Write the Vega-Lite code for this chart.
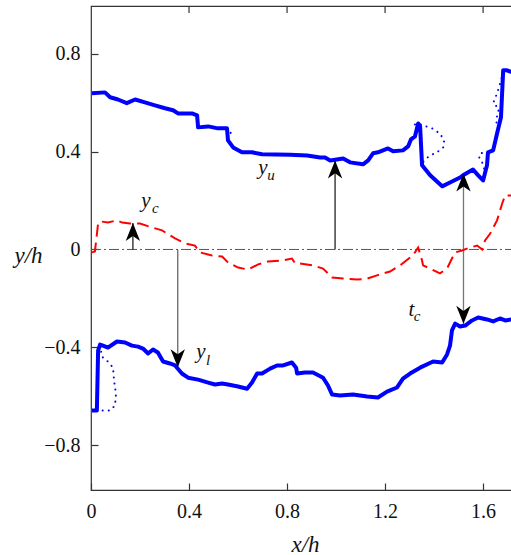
{
  "$schema": "https://vega.github.io/schema/vega-lite/v6.json",
  "width": 421,
  "height": 484,
  "autosize": "none",
  "padding": {"left": 91, "top": 6, "right": 0, "bottom": 65},
  "background": "white",
  "config": {
    "view": {"stroke": "#333", "strokeWidth": 1.2},
    "style": {"guide-label": {"font": "Liberation Serif", "fontSize": 20, "fill": "#111"}},
    "axis": {"domain": false, "tickColor": "#333", "tickWidth": 1.2, "tickSize": -7, "labelPadding": 18, "grid": false}
  },
  "datasets": {
    "zero": [{"x": 0, "x2": 1.718, "y": 0}],
    "topticks": [{"x":0.4,"y":0.995,"y2":0.966},{"x":0.8,"y":0.995,"y2":0.966},{"x":1.2,"y":0.995,"y2":0.966},{"x":1.6,"y":0.995,"y2":0.966}],
    "upper": [
      {"x":0.004,"y":0.638},{"x":0.057,"y":0.642},{"x":0.078,"y":0.622},{"x":0.110,"y":0.613},{"x":0.146,"y":0.598},
      {"x":0.180,"y":0.613},{"x":0.220,"y":0.601},{"x":0.261,"y":0.589},{"x":0.302,"y":0.577},{"x":0.335,"y":0.569},
      {"x":0.355,"y":0.556},{"x":0.412,"y":0.556},{"x":0.433,"y":0.548},{"x":0.437,"y":0.499},{"x":0.478,"y":0.503},
      {"x":0.518,"y":0.495},{"x":0.555,"y":0.495},{"x":0.559,"y":0.446},{"x":0.580,"y":0.417},{"x":0.616,"y":0.397},
      {"x":0.657,"y":0.397},{"x":0.698,"y":0.389},{"x":0.812,"y":0.387},{"x":0.882,"y":0.384},{"x":0.935,"y":0.376},
      {"x":0.955,"y":0.376},{"x":0.976,"y":0.364},{"x":1.029,"y":0.372},{"x":1.057,"y":0.356},{"x":1.110,"y":0.348},
      {"x":1.131,"y":0.364},{"x":1.151,"y":0.393},{"x":1.171,"y":0.397},{"x":1.212,"y":0.413},{"x":1.233,"y":0.401},
      {"x":1.273,"y":0.405},{"x":1.294,"y":0.421},{"x":1.306,"y":0.450},{"x":1.322,"y":0.462},{"x":1.335,"y":0.515},
      {"x":1.343,"y":0.503},{"x":1.351,"y":0.344},{"x":1.384,"y":0.303},{"x":1.433,"y":0.258},{"x":1.465,"y":0.274},
      {"x":1.506,"y":0.294},{"x":1.518,"y":0.303},{"x":1.559,"y":0.327},{"x":1.580,"y":0.303},{"x":1.600,"y":0.282},
      {"x":1.616,"y":0.344},{"x":1.620,"y":0.397},{"x":1.641,"y":0.405},{"x":1.657,"y":0.474},{"x":1.673,"y":0.540},
      {"x":1.682,"y":0.732},{"x":1.698,"y":0.732},{"x":1.718,"y":0.724}
    ],
    "lower": [
      {"x":0.004,"y":-0.658},{"x":0.024,"y":-0.658},{"x":0.029,"y":-0.413},{"x":0.037,"y":-0.389},{"x":0.049,"y":-0.393},
      {"x":0.069,"y":-0.401},{"x":0.106,"y":-0.376},{"x":0.139,"y":-0.380},{"x":0.167,"y":-0.393},{"x":0.192,"y":-0.397},
      {"x":0.212,"y":-0.405},{"x":0.233,"y":-0.425},{"x":0.253,"y":-0.409},{"x":0.273,"y":-0.421},{"x":0.294,"y":-0.458},
      {"x":0.322,"y":-0.466},{"x":0.343,"y":-0.474},{"x":0.371,"y":-0.507},{"x":0.396,"y":-0.524},{"x":0.437,"y":-0.532},
      {"x":0.478,"y":-0.544},{"x":0.506,"y":-0.552},{"x":0.535,"y":-0.548},{"x":0.559,"y":-0.552},{"x":0.600,"y":-0.560},
      {"x":0.637,"y":-0.569},{"x":0.657,"y":-0.544},{"x":0.678,"y":-0.507},{"x":0.698,"y":-0.507},{"x":0.731,"y":-0.487},
      {"x":0.759,"y":-0.474},{"x":0.784,"y":-0.474},{"x":0.820,"y":-0.462},{"x":0.837,"y":-0.483},{"x":0.841,"y":-0.507},
      {"x":0.873,"y":-0.503},{"x":0.906,"y":-0.503},{"x":0.947,"y":-0.524},{"x":0.967,"y":-0.556},{"x":0.984,"y":-0.593},
      {"x":1.016,"y":-0.597},{"x":1.069,"y":-0.593},{"x":1.127,"y":-0.601},{"x":1.171,"y":-0.605},{"x":1.208,"y":-0.581},
      {"x":1.249,"y":-0.564},{"x":1.273,"y":-0.528},{"x":1.302,"y":-0.507},{"x":1.343,"y":-0.483},{"x":1.396,"y":-0.458},
      {"x":1.433,"y":-0.462},{"x":1.453,"y":-0.429},{"x":1.465,"y":-0.393},{"x":1.473,"y":-0.331},{"x":1.486,"y":-0.303},
      {"x":1.506,"y":-0.315},{"x":1.527,"y":-0.311},{"x":1.555,"y":-0.290},{"x":1.580,"y":-0.278},{"x":1.616,"y":-0.286},
      {"x":1.641,"y":-0.294},{"x":1.669,"y":-0.282},{"x":1.690,"y":-0.290},{"x":1.718,"y":-0.286}
    ],
    "center": [
      {"x":0.004,"y":-0.012},{"x":0.016,"y":-0.008},{"x":0.029,"y":0.106},{"x":0.037,"y":0.115},{"x":0.069,"y":0.110},
      {"x":0.106,"y":0.119},{"x":0.127,"y":0.110},{"x":0.159,"y":0.106},{"x":0.200,"y":0.106},{"x":0.249,"y":0.090},
      {"x":0.290,"y":0.078},{"x":0.343,"y":0.045},{"x":0.384,"y":0.025},{"x":0.424,"y":0.016},{"x":0.445,"y":-0.012},
      {"x":0.494,"y":-0.025},{"x":0.535,"y":-0.029},{"x":0.559,"y":-0.053},{"x":0.600,"y":-0.074},{"x":0.641,"y":-0.082},
      {"x":0.682,"y":-0.061},{"x":0.722,"y":-0.049},{"x":0.780,"y":-0.045},{"x":0.820,"y":-0.037},{"x":0.833,"y":-0.057},
      {"x":0.853,"y":-0.057},{"x":0.906,"y":-0.065},{"x":0.947,"y":-0.078},{"x":0.984,"y":-0.115},{"x":1.029,"y":-0.119},
      {"x":1.086,"y":-0.123},{"x":1.127,"y":-0.119},{"x":1.167,"y":-0.106},{"x":1.220,"y":-0.090},{"x":1.261,"y":-0.065},
      {"x":1.302,"y":-0.033},{"x":1.322,"y":-0.012},{"x":1.335,"y":0.008},{"x":1.351,"y":-0.045},{"x":1.355,"y":-0.065},
      {"x":1.384,"y":-0.078},{"x":1.424,"y":-0.098},{"x":1.453,"y":-0.078},{"x":1.473,"y":-0.037},{"x":1.486,"y":-0.012},
      {"x":1.514,"y":-0.004},{"x":1.547,"y":0.008},{"x":1.576,"y":0.016},{"x":1.596,"y":0.000},{"x":1.608,"y":0.037},
      {"x":1.629,"y":0.065},{"x":1.657,"y":0.119},{"x":1.678,"y":0.188},{"x":1.690,"y":0.221},{"x":1.718,"y":0.221}
    ],
    "loops": [
      {"seg":"a","i":0,"x":0.037,"y":-0.393},{"seg":"a","i":1,"x":0.045,"y":-0.438},{"seg":"a","i":2,"x":0.069,"y":-0.458},
      {"seg":"a","i":3,"x":0.090,"y":-0.483},{"seg":"a","i":4,"x":0.094,"y":-0.536},{"seg":"a","i":5,"x":0.102,"y":-0.589},
      {"seg":"a","i":6,"x":0.098,"y":-0.638},{"seg":"a","i":7,"x":0.078,"y":-0.658},{"seg":"a","i":8,"x":0.049,"y":-0.658},
      {"seg":"a","i":9,"x":0.024,"y":-0.658},
      {"seg":"b","i":0,"x":0.555,"y":0.495},{"seg":"b","i":1,"x":0.567,"y":0.487},{"seg":"b","i":2,"x":0.571,"y":0.474},
      {"seg":"c","i":0,"x":1.322,"y":0.511},{"seg":"c","i":1,"x":1.335,"y":0.515},{"seg":"c","i":2,"x":1.355,"y":0.507},
      {"seg":"c","i":3,"x":1.392,"y":0.495},{"seg":"c","i":4,"x":1.424,"y":0.474},{"seg":"c","i":5,"x":1.441,"y":0.446},
      {"seg":"c","i":6,"x":1.437,"y":0.417},{"seg":"c","i":7,"x":1.412,"y":0.397},{"seg":"c","i":8,"x":1.384,"y":0.384},
      {"seg":"c","i":9,"x":1.363,"y":0.368},{"seg":"c","i":10,"x":1.351,"y":0.352},
      {"seg":"d","i":0,"x":1.620,"y":0.397},{"seg":"d","i":1,"x":1.588,"y":0.393},{"seg":"d","i":2,"x":1.584,"y":0.372},
      {"seg":"d","i":3,"x":1.596,"y":0.356},{"seg":"d","i":4,"x":1.604,"y":0.331},
      {"seg":"e","i":0,"x":1.682,"y":0.724},{"seg":"e","i":1,"x":1.665,"y":0.663},{"seg":"e","i":2,"x":1.657,"y":0.638},
      {"seg":"e","i":3,"x":1.641,"y":0.597},{"seg":"e","i":4,"x":1.665,"y":0.577},{"seg":"e","i":5,"x":1.653,"y":0.528},
      {"seg":"e","i":6,"x":1.657,"y":0.507}
    ],
    "arrows": [
      {"name":"yc","x":0.171,"y":0,"y2":0.108},
      {"name":"yl","x":0.354,"y":0,"y2":-0.481},
      {"name":"yu","x":0.996,"y":0,"y2":0.364},
      {"name":"tc","x":1.52,"y":-0.304,"y2":0.31}
    ],
    "heads": [
      {"x":0.171,"y":0.108,"dir":"up"},
      {"x":0.354,"y":-0.481,"dir":"down"},
      {"x":0.996,"y":0.364,"dir":"up"},
      {"x":1.52,"y":0.31,"dir":"up"},
      {"x":1.52,"y":-0.304,"dir":"down"}
    ],
    "annot": [
      {"t":"y","kind":"main","x":0.224,"y":0.172},
      {"t":"c","kind":"sub","x":0.263,"y":0.147},
      {"t":"y","kind":"main","x":0.702,"y":0.307},
      {"t":"u","kind":"sub","x":0.735,"y":0.282},
      {"t":"y","kind":"main","x":0.449,"y":-0.442},
      {"t":"l","kind":"sub","x":0.478,"y":-0.474},
      {"t":"t","kind":"main","x":1.308,"y":-0.270},
      {"t":"c","kind":"sub","x":1.331,"y":-0.294}
    ]
  },
  "encoding": {
    "x": {"field": "x", "type": "quantitative",
      "scale": {"domain": [0, 1.718], "nice": false, "zero": false},
      "axis": {"orient": "bottom", "values": [0, 0.4, 0.8, 1.2, 1.6], "format": ".1~f", "labelFlush": false,
        "labelFont": "Liberation Serif", "labelFontSize": 20, "labelColor": "#111",
        "title": "x/h", "titleFont": "Liberation Serif", "titleFontSize": 23, "titleFontStyle": "italic",
        "titleFontWeight": "normal", "titleColor": "#111",
        "titleAnchor": "middle", "titleAlign": "center", "titleBaseline": "alphabetic",
        "titleX": 214, "titleY": 61}},
    "y": {"field": "y", "type": "quantitative",
      "scale": {"domain": [-0.983, 0.995], "nice": false, "zero": false},
      "axis": {"orient": "left", "values": [-0.8, -0.4, 0, 0.4, 0.8], "format": ".1~f", "labelFlush": false,
        "labelFont": "Liberation Serif", "labelFontSize": 20, "labelColor": "#111",
        "labelExpr": "replace(datum.label, '-', '\u2212')",
        "title": "y/h", "titleFont": "Liberation Serif", "titleFontSize": 23, "titleFontStyle": "italic",
        "titleFontWeight": "normal", "titleColor": "#111",
        "titleAngle": 0, "titleAlign": "center", "titleBaseline": "alphabetic",
        "titleX": -63, "titleY": 256}}
  },
  "layer": [
    {
      "data": {"name": "zero"},
      "mark": {"type": "rule", "color": "#555", "strokeWidth": 1, "strokeDash": [10, 3, 2, 3]},
      "encoding": {"x2": {"field": "x2"}}
    },
    {
      "data": {"name": "topticks"},
      "mark": {"type": "rule", "color": "#333", "strokeWidth": 1.2},
      "encoding": {"y2": {"field": "y2"}}
    },
    {
      "data": {"name": "arrows"},
      "mark": {"type": "rule", "strokeWidth": 1.3},
      "encoding": {
        "y2": {"field": "y2"},
        "color": {"field": "name", "type": "nominal", "legend": null,
          "scale": {"domain": ["yc", "yl", "yu", "tc"], "range": ["#222", "#666", "#222", "#777"]}}
      }
    },
    {
      "data": {"name": "center"},
      "mark": {"type": "line", "color": "#ff0000", "strokeWidth": 2, "strokeDash": [12, 6], "clip": true}
    },
    {
      "data": {"name": "loops"},
      "mark": {"type": "line", "color": "#0000ff", "strokeWidth": 2, "strokeDash": [0.1, 6], "strokeCap": "round", "clip": true},
      "encoding": {
        "detail": {"field": "seg", "type": "nominal"},
        "order": {"field": "i", "type": "quantitative"}
      }
    },
    {
      "data": {"name": "upper"},
      "mark": {"type": "line", "color": "#0000ff", "strokeWidth": 4, "strokeJoin": "round", "clip": true}
    },
    {
      "data": {"name": "lower"},
      "mark": {"type": "line", "color": "#0000ff", "strokeWidth": 4, "strokeJoin": "round", "clip": true}
    },
    {
      "data": {"name": "heads"},
      "mark": {"type": "point", "filled": true, "color": "#000", "opacity": 1, "strokeWidth": 0, "size": 1296},
      "encoding": {
        "shape": {"field": "dir", "type": "nominal", "legend": null,
          "scale": {"domain": ["up", "down"], "range": ["M0,0 L0.4,1 L0,0.72 L-0.4,1 Z", "M0,0 L0.4,-1 L0,-0.72 L-0.4,-1 Z"]}}
      }
    },
    {
      "data": {"name": "annot"},
      "mark": {"type": "text", "font": "Liberation Serif", "fontStyle": "italic", "align": "center", "baseline": "alphabetic", "color": "#111"},
      "encoding": {
        "text": {"field": "t"},
        "size": {"field": "kind", "type": "nominal", "legend": null,
          "scale": {"domain": ["main", "sub"], "range": [21, 15]}}
      }
    }
  ]
}
